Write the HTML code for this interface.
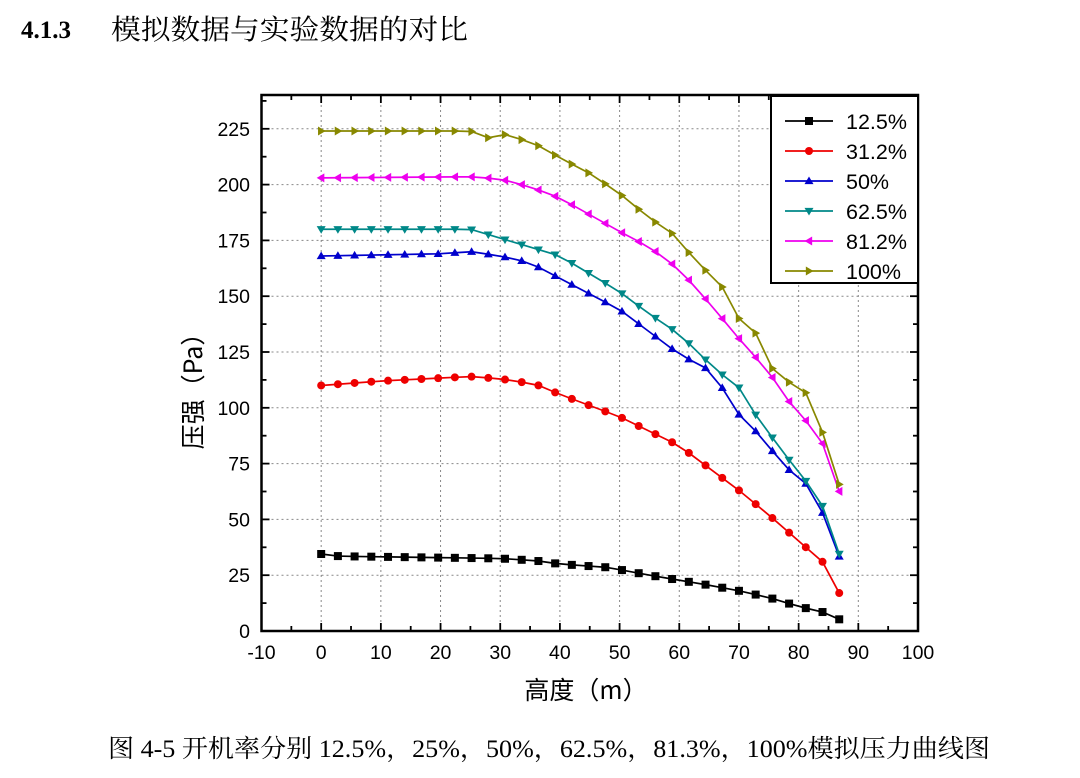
<!DOCTYPE html>
<html><head><meta charset="utf-8">
<style>
html,body{margin:0;padding:0;background:#fff;width:1080px;height:778px;overflow:hidden}
svg{display:block}
</style></head><body>
<svg id="s" width="1080" height="778" xmlns="http://www.w3.org/2000/svg">
<text x="21" y="38" font-family="Liberation Serif, serif" font-weight="bold" font-size="25">4.1.3</text>
<text x="111" y="39" textLength="357" lengthAdjust="spacingAndGlyphs" font-family="Liberation Serif, 'Noto Serif CJK SC', serif" font-size="28">模拟数据与实验数据的对比</text>
<text x="108" y="757" textLength="882" lengthAdjust="spacingAndGlyphs" font-family="Liberation Serif, 'Noto Serif CJK SC', serif" font-size="25">图 4-5 开机率分别 12.5%，25%，50%，62.5%，81.3%，100%模拟压力曲线图</text>
<text x="0" y="0" transform="translate(202,385) rotate(-90)" text-anchor="middle" font-family="'Noto Sans CJK SC', sans-serif" font-size="25">压强（Pa）</text>
<text x="586" y="699" text-anchor="middle" font-family="'Noto Sans CJK SC', sans-serif" font-size="25">高度（m）</text>
<g id="g"></g>
</svg>
<script>
const X0=261.5,X1=918,Y0=631,Ypx=2.232;
const fx=v=>X0+(v+10)*(X1-X0)/110, fy=v=>Y0-v*Ypx;
let h='';
for(let v=0;v<=90;v+=10)h+=`<line x1="${fx(v)}" x2="${fx(v)}" y1="95" y2="${Y0}" stroke="#888" stroke-dasharray="2,3"/>`;
for(let v=25;v<=225;v+=25)h+=`<line x1="${X0}" x2="${X1}" y1="${fy(v)}" y2="${fy(v)}" stroke="#888" stroke-dasharray="2,3"/>`;
for(let v=-10;v<=100;v+=5){let L=v%10==0?8:5;h+=`<line x1="${fx(v)}" x2="${fx(v)}" y1="${Y0}" y2="${Y0-L}" stroke="#000" stroke-width="1.8"/><line x1="${fx(v)}" x2="${fx(v)}" y1="95" y2="${95+L}" stroke="#000" stroke-width="1.8"/>`;
 if(v%10==0)h+=`<text x="${fx(v)}" y="659" text-anchor="middle" font-family="Liberation Sans,sans-serif" font-size="19.5">${v}</text>`;}
for(let v=0;v<=237.5;v+=12.5){let L=v%25==0?8:5;h+=`<line x1="${X0}" x2="${X0+L}" y1="${fy(v)}" y2="${fy(v)}" stroke="#000" stroke-width="1.8"/><line x1="${X1}" x2="${X1-L}" y1="${fy(v)}" y2="${fy(v)}" stroke="#000" stroke-width="1.8"/>`;
 if(v%25==0)h+=`<text x="250" y="${fy(v)+7}" text-anchor="end" font-family="Liberation Sans,sans-serif" font-size="19.5">${v}</text>`;}
h+=`<rect x="${X0}" y="95" width="${X1-X0}" height="${Y0-95}" fill="none" stroke="#000" stroke-width="2.5"/>`;
const S=[
['12.5%','#000','sq',[[0,34.5],[3,33.5],[30,32.5],[36,31.5],[40,30],[48,28.5],[55,25],[65,20.5],[70,18],[75,15],[80,11],[84,8.5],[87,5]]],
['31.2%','#e00','ci',[[0,110],[10,112],[25,114],[30,113],[36,110.5],[40,106],[50,96],[60,83],[65,73],[70,63],[75,52],[78,45],[81,38],[84,31],[87,16]]],
['50%','#00c','up',[[0,168],[20,169],[25,170],[30,168],[35,165],[40,158],[50,144],[55,134],[60,124],[65,117],[68,106],[70,97],[73,89],[78,73],[81,67],[84,53],[87,32]]],
['62.5%','#088','dn',[[0,180],[25,180],[30,176],[35,172],[40,168],[50,152],[55,142],[60,133],[65,120],[68,113],[70,109],[73,96],[78,78],[81,68],[84,56],[87,33]]],
['81.2%','#e0e','lf',[[0,203],[25,203.5],[30,202.5],[35,199],[40,194],[50,179],[55,172],[60,162],[65,147],[70,131],[75,116],[78,104],[81,95],[84,84],[87,61]]],
['100%','#880','rt',[[0,224],[25,224],[28,221],[31,222.5],[36,218],[40,212],[45,205],[50,196],[55,185],[60,176],[62,168],[65,160],[68,152],[70,140],[73,133],[75,119],[78,112],[81,108],[84,89],[87,64]]]];
function interp(k,x){for(let i=0;i<k.length-1;i++){if(x<=k[i+1][0]+1e-9){let t=(x-k[i][0])/(k[i+1][0]-k[i][0]);return k[i][1]+t*(k[i+1][1]-k[i][1]);}}return k[k.length-1][1];}
function mk(t,x,y,c){const r=4.5;
 if(t=='sq')return `<rect x="${x-4}" y="${y-4}" width="8" height="8" fill="${c}"/>`;
 if(t=='ci')return `<circle cx="${x}" cy="${y}" r="4" fill="${c}"/>`;
 let p;if(t=='up')p=[[x,y-r],[x-r,y+r*.7],[x+r,y+r*.7]];if(t=='dn')p=[[x,y+r],[x-r,y-r*.7],[x+r,y-r*.7]];
 if(t=='lf')p=[[x-r,y],[x+r*.7,y-r],[x+r*.7,y+r]];if(t=='rt')p=[[x+r,y],[x-r*.7,y-r],[x-r*.7,y+r]];
 return `<polygon points="${p.map(a=>a.join(',')).join(' ')}" fill="${c}"/>`;}
S.forEach(([n,c,m,k])=>{let pts=[];for(let i=0;i<32;i++){let x=Math.min(2.8*i,87);pts.push([fx(x),fy(interp(k,x))]);}
 h+=`<polyline points="${pts.map(p=>p.join(',')).join(' ')}" fill="none" stroke="${c}" stroke-width="1.7"/>`;
 pts.forEach(p=>h+=mk(m,p[0],p[1],c));});
h+=`<rect x="771" y="96" width="147" height="187" fill="#fff" stroke="#000" stroke-width="2"/>`;
S.forEach(([n,c,m],i)=>{let y=121+i*30;h+=`<line x1="785" x2="833" y1="${y}" y2="${y}" stroke="${c}" stroke-width="1.7"/>`+mk(m,809,y,c)+`<text x="846" y="${y+8}" font-family="Liberation Sans,sans-serif" font-size="21.5">${n}</text>`;});
document.getElementById('g').innerHTML=h;
</script>
</body></html>
